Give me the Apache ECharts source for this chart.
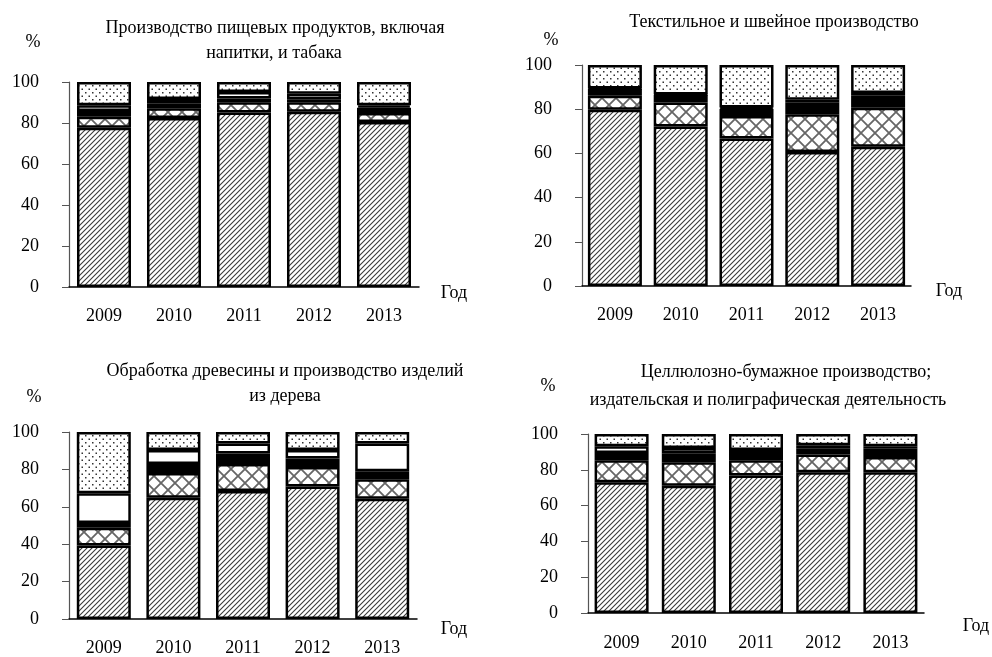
<!DOCTYPE html>
<html><head><meta charset="utf-8">
<script src="https://cdn.jsdelivr.net/npm/echarts@6/dist/echarts.min.js"></script>
<style>html,body{margin:0;padding:0;background:#fff}#c{width:992px;height:657px}</style>
</head><body><div id="c"></div><script>
// ---- data ----
const years = ['2009', '2010', '2011', '2012', '2013'];
const yTicks = [0, 20, 40, 60, 80, 100];
const xUnit = 'Год';
const yUnit = '%';

const titleFood = ['Производство пищевых продуктов, включая', 'напитки, и табака'];
const titleTextile = ['Текстильное и швейное производство'];
const titleWood = ['Обработка древесины и производство изделий', 'из дерева'];
const titlePulp = ['Целлюлозно-бумажное производство;', 'издательская и полиграфическая деятельность'];

// layers bottom -> top: diagonal hatch, cross hatch, black, white, dotted
const foodDiag   = [77.7, 82.4, 85.1, 85.5, 80.5];
const foodCross  = [5.4, 4.8, 5.0, 4.6, 4.4];
const foodBlack  = [2.8, 2.2, 1.9, 1.5, 2.6];
const foodWhite  = [2.7, 2.3, 3.1, 2.7, 1.1];
const foodDots   = [11.4, 8.3, 4.9, 5.7, 11.4];

const textDiag   = [79.8, 72.2, 66.7, 60.6, 63.0];
const textCross  = [6.3, 10.8, 10.2, 17.1, 17.7];
const textBlack  = [3.0, 3.4, 3.3, 5.4, 5.4];
const textWhite  = [0.3, 0.3, 0.6, 1.2, 1.2];
const textDots   = [10.6, 13.3, 19.2, 15.7, 12.7];

const woodDiag   = [39.3, 64.9, 68.4, 70.8, 64.3];
const woodCross  = [9.5, 13.2, 14.5, 10.5, 10.4];
const woodBlack  = [2.6, 4.8, 5.6, 4.5, 4.3];
const woodWhite  = [15.9, 7.5, 5.4, 4.6, 14.9];
const woodDots   = [32.7, 9.6, 6.1, 9.6, 6.1];

const pulpDiag   = [73.1, 71.1, 76.8, 78.7, 78.7];
const pulpCross  = [12.2, 13.1, 8.5, 9.8, 8.5];
const pulpBlack  = [4.1, 5.0, 4.1, 3.5, 4.5];
const pulpWhite  = [3.7, 3.0, 1.7, 1.7, 1.4];
const pulpDots   = [6.9, 7.8, 8.9, 6.3, 6.9];

// ---- patterns ----
function tile(s, draw) {
  const c = document.createElement('canvas');
  c.width = s; c.height = s;
  const ctx = c.getContext('2d');
  ctx.fillStyle = '#fff'; ctx.fillRect(0, 0, s, s);
  draw(ctx, s);
  return { image: c, repeat: 'repeat' };
}
const patDiag = tile(5, (ctx, s) => {
  ctx.strokeStyle = '#3a3a3a'; ctx.lineWidth = 1.1;
  ctx.beginPath();
  ctx.moveTo(0, s); ctx.lineTo(s, 0);
  ctx.moveTo(-1, 1); ctx.lineTo(1, -1);
  ctx.moveTo(s - 1, s + 1); ctx.lineTo(s + 1, s - 1);
  ctx.stroke();
});
const patCross = tile(14, (ctx, s) => {
  ctx.strokeStyle = '#666'; ctx.lineWidth = 1.8;
  ctx.beginPath();
  ctx.moveTo(0, 0); ctx.lineTo(s, s);
  ctx.moveTo(0, s); ctx.lineTo(s, 0);
  ctx.stroke();
});
const patDots = tile(7, (ctx, s) => {
  ctx.fillStyle = '#333';
  ctx.fillRect(1, 1, 1.5, 1.5);
  ctx.fillRect(4.5, 4.5, 1.5, 1.5);
});
const layerColors = [patDiag, patCross, '#000', '#fff', patDots];

const panels = [
  { layers: [foodDiag, foodCross, foodBlack, foodWhite, foodDots], grid: { left: 69, top: 82, width: 350, height: 205 }, xMargin: 20 },
  { layers: [textDiag, textCross, textBlack, textWhite, textDots], grid: { left: 582, top: 65, width: 329, height: 221 }, xMargin: 20 },
  { layers: [woodDiag, woodCross, woodBlack, woodWhite, woodDots], grid: { left: 69, top: 432, width: 348, height: 190 }, xMargin: 20 },
  { layers: [pulpDiag, pulpCross, pulpBlack, pulpWhite, pulpDots], grid: { left: 588, top: 434, width: 336, height: 179 }, xMargin: 21 }
];

const FONT = '"Liberation Serif", "Times New Roman", serif';
const grid = [], xAxis = [], yAxis = [], series = [];
panels.forEach((p, i) => {
  grid.push(Object.assign({ containLabel: false }, p.grid));
  xAxis.push({
    type: 'category', gridIndex: i, data: years,
    axisLine: { lineStyle: { color: '#000', width: 1.5 } },
    axisTick: { show: false },
    axisLabel: { color: '#000', fontFamily: FONT, fontSize: 18, margin: p.xMargin }
  });
  yAxis.push({
    type: 'value', gridIndex: i, min: 0, max: 100, interval: 20,
    axisLine: { show: true, lineStyle: { color: '#555', width: 1.2 } },
    axisTick: { show: true, length: 7, lineStyle: { color: '#555' } },
    splitLine: { show: false },
    axisLabel: { color: '#000', fontFamily: FONT, fontSize: 18, margin: 30 }
  });
  p.layers.forEach((vals, l) => {
    series.push({
      type: 'bar', xAxisIndex: i, yAxisIndex: i, stack: 'p' + i,
      data: vals, barWidth: 54,
      itemStyle: { color: layerColors[l], borderColor: '#000', borderWidth: 2.5 },
      emphasis: { disabled: true }
    });
  });
});

function txt(x, y, s) {
  return { type: 'text', x: x, y: y, style: { text: s, font: '18px ' + FONT, fill: '#000', align: 'center', verticalAlign: 'middle' } };
}
const graphic = [
  txt(275, 28, titleFood[0]), txt(274, 53, titleFood[1]),
  txt(774, 22, titleTextile[0]),
  txt(285, 371, titleWood[0]), txt(285, 396, titleWood[1]),
  txt(786, 372, titlePulp[0]), txt(768, 400, titlePulp[1]),
  txt(33, 42, yUnit), txt(551, 40, yUnit), txt(34, 397, yUnit), txt(548, 386, yUnit),
  txt(454, 293, xUnit), txt(949, 291, xUnit), txt(454, 629, xUnit), txt(976, 626, xUnit)
];

const chart = echarts.init(document.getElementById('c'), null, { renderer: 'canvas' });
chart.setOption({ animation: false, backgroundColor: '#fff', grid, xAxis, yAxis, series, graphic });
</script></body></html>
